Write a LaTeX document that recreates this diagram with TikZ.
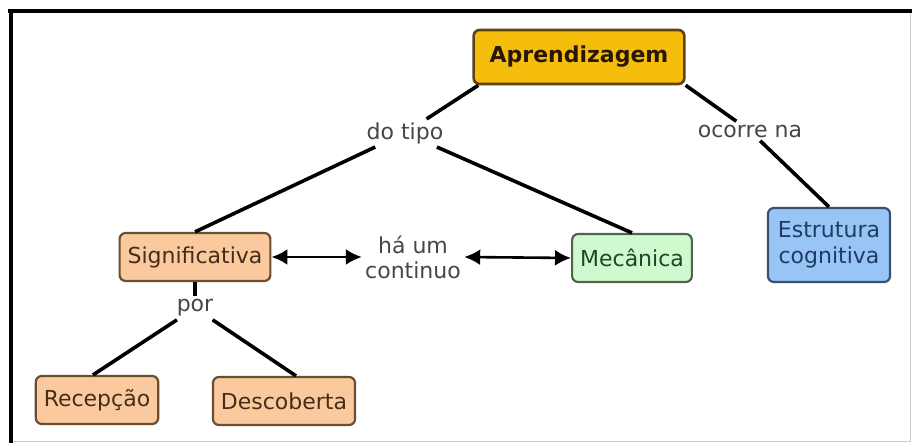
\documentclass[tikz,border=0pt]{standalone}
\usepackage{fontspec}
\setmainfont{DejaVu Sans}
\usepackage{xcolor}
\usetikzlibrary{arrows.meta}
\definecolor{aprfill}{RGB}{246,190,12}
\definecolor{aprline}{RGB}{95,65,20}
\definecolor{aprtext}{RGB}{40,22,8}
\definecolor{sigfill}{RGB}{250,202,158}
\definecolor{sigline}{RGB}{105,78,50}
\definecolor{sigtext}{RGB}{70,45,25}
\definecolor{mecfill}{RGB}{206,250,206}
\definecolor{mecline}{RGB}{80,100,80}
\definecolor{mectext}{RGB}{30,70,40}
\definecolor{estfill}{RGB}{152,196,246}
\definecolor{estline}{RGB}{60,80,110}
\definecolor{esttext}{RGB}{30,60,100}
\definecolor{linktext}{RGB}{70,70,70}
\tikzset{
	concept/.style={draw,rounded corners=3pt,line width=1.1pt,inner xsep=4pt,
			minimum height=24pt,align=center,font=\fontsize{11}{13}\selectfont},
	orange/.style={concept,fill=sigfill,draw=sigline,text=sigtext},
	linkword/.style={text=linktext,inner sep=1.5pt,align=center,font=\fontsize{11}{12.5}\selectfont},
	tie/.style={line width=1.8pt},
	twoway/.style={line width=1.3pt,{Latex[length=8pt,width=8pt]}-{Latex[length=8pt,width=8pt]}}
}
\begin{document}
\begin{tikzpicture}[x=0.5pt,y=-0.5pt]
	\useasboundingbox (0,0) rectangle (912,443);
	% frame
	\draw[black!20](910,11)--(910,441)--(11,441);
	\draw[line width=1.8pt](8,11)--(912,11);
	\draw[line width=1.8pt](11,10)--(11,443);
	% concepts
	\node[concept,fill=aprfill,draw=aprline,text=aprtext,line width=1.3pt,inner xsep=8pt,minimum height=27pt] (apr) at (579,57) {\textbf{Aprendizagem}};
	\node[orange] (sig) at (195,257) {Significativa};
	\node[concept,fill=mecfill,draw=mecline,text=mectext] (mec) at (632,258) {Mecânica};
	\node[concept,fill=estfill,draw=estline,text=esttext,inner xsep=5pt,minimum height=37pt] (est) at (829,245) {Estrutura\\cognitiva};
	\node[orange] (rec) at (97,400) {Recepção};
	\node[orange] (desc) at (284,401) {Descoberta};
	% linking words
	\node[linkword] (dotipo) at (405,133) {do tipo};
	\node[linkword] (ocorre) at (750,131) {ocorre na};
	\node[linkword] (cont) at (413,257) {há um\\continuo};
	\node[linkword] (por) at (195,308) {por};
	% links
	\draw[tie]([xshift=3pt]apr.south west)--(dotipo);
	\draw[tie](dotipo)--(sig.north);
	\draw[tie](dotipo)--(mec.north);
	\draw[tie](apr.south east)--(ocorre);
	\draw[tie](ocorre)--(est.north);
	\draw[tie](sig.south)--(por);
	\draw[tie](por)--([xshift=-2pt]rec.north);
	\draw[tie](por)--([xshift=6pt]desc.north);
	\draw[twoway](sig.east)--(cont.west);
	\draw[twoway](cont.east)--(mec.west);
\end{tikzpicture}
\end{document}
